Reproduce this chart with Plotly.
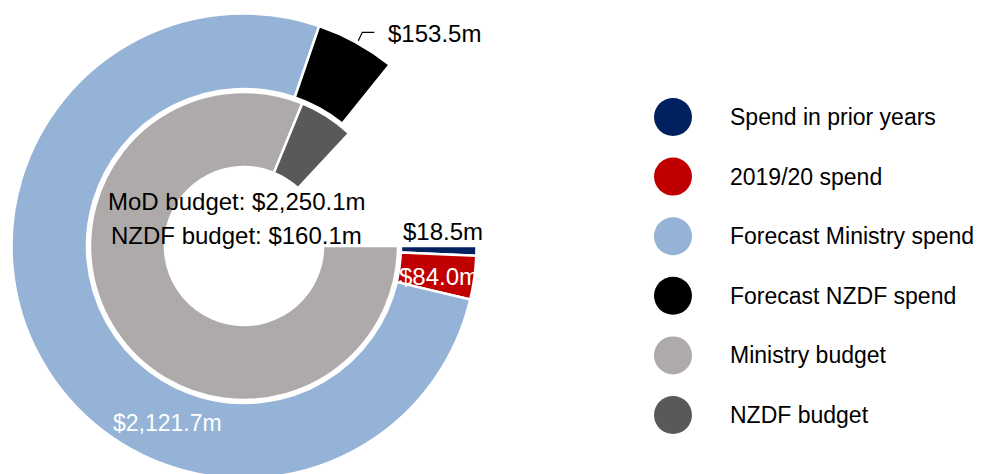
import plotly.graph_objects as go

# outer ring: where the money has gone / is forecast to go
outer_labels = ["Spend in prior years", "2019/20 spend", "Forecast Ministry spend", "Forecast NZDF spend"]
outer_values = [18.5, 84.0, 2121.7, 153.5]
outer_colors = ["#002060", "#c00000", "#95b3d7", "#000000"]

# inner ring: the budgets
inner_labels = ["Ministry budget", "NZDF budget"]
inner_values = [2250.1, 160.1]
inner_colors = ["#aeaaaa", "#595959"]

# blank part of each ring (the rings are not closed circles)
outer_blank = 394.3
inner_blank = 361.8

# page size; the figure is a bit taller than the window so the ring runs off the bottom
W, H = 985, 500
cx, cy = 244, 246          # ring centre in px
r_out, r_out_hole = 232.5, 157
r_in, r_in_hole = 154, 79


def px(x):
    return x / W


def py(y):
    return 1 - y / H


def money(v):
    return f"${v:,.1f}m"


fig = go.Figure()

fig.add_trace(go.Pie(
    values=outer_values + [outer_blank],
    labels=outer_labels + ["blank"],
    marker=dict(colors=outer_colors + ["rgba(0,0,0,0)"],
                line=dict(color="white", width=[2.5] * len(outer_values) + [0])),
    hole=r_out_hole / r_out,
    domain=dict(x=[px(cx - r_out), px(cx + r_out)], y=[py(cy + r_out), py(cy - r_out)]),
    sort=False, direction="clockwise", rotation=90,
    textinfo="none", hoverinfo="skip", showlegend=False,
))

fig.add_trace(go.Pie(
    values=inner_values + [inner_blank],
    labels=inner_labels + ["blank "],
    marker=dict(colors=inner_colors + ["rgba(0,0,0,0)"],
                line=dict(color="white", width=[2.5] * len(inner_values) + [0])),
    hole=r_in_hole / r_in,
    domain=dict(x=[px(cx - r_in), px(cx + r_in)], y=[py(cy + r_in), py(cy - r_in)]),
    sort=False, direction="clockwise", rotation=90,
    textinfo="none", hoverinfo="skip", showlegend=False,
))

# legend drawn as big circles + text on a hidden axis
legend_labels = outer_labels + inner_labels
legend_colors = outer_colors + inner_colors
rows = list(range(len(legend_labels)))

fig.add_trace(go.Scatter(
    x=[0] * len(rows), y=rows, mode="markers",
    marker=dict(size=38, color=legend_colors, line=dict(width=0)),
    hoverinfo="skip", showlegend=False,
))

# map legend units to pixels: marker col at 673px, text at 728px; rows from 117px every 59.6px
x_scale = 728 - 673
y_scale = 59.6
y_first = 117
fig.update_xaxes(visible=False, range=[-673 / x_scale, (W - 673) / x_scale], domain=[0, 1])
fig.update_yaxes(visible=False, range=[(H - y_first) / y_scale, -y_first / y_scale], domain=[0, 1])

annotations = []
for i, lab in zip(rows, legend_labels):
    annotations.append(dict(x=1, y=i, xref="x", yref="y", text=lab, showarrow=False,
                            xanchor="left", yanchor="middle", font=dict(size=23, color="black")))

# slice value labels
annotations += [
    dict(x=px(434.5), y=py(33), text=money(outer_values[3]), font=dict(size=24, color="black")),
    dict(x=px(442.5), y=py(232), text=money(outer_values[0]), font=dict(size=24, color="black")),
    dict(x=px(438.5), y=py(276), text=money(outer_values[1]), font=dict(size=24, color="white")),
    dict(x=px(167.5), y=py(423), text=money(outer_values[2]), font=dict(size=23, color="white")),
    dict(x=px(236.5), y=py(201), text="MoD budget: " + money(inner_values[0]), font=dict(size=24, color="black")),
    dict(x=px(236), y=py(235), text="NZDF budget: " + money(inner_values[1]), font=dict(size=24, color="black")),
]
for a in annotations[len(rows):]:
    a.update(xref="paper", yref="paper", showarrow=False, xanchor="center", yanchor="middle")

# elbow leader line for the NZDF forecast label
fig.add_shape(type="path", xref="paper", yref="paper",
              path=f"M {px(358.3)},{py(40.7)} L {px(362.3)},{py(32.3)} L {px(374.3)},{py(32.3)}",
              line=dict(color="black", width=1.2))

fig.update_layout(
    width=W, height=H,
    margin=dict(l=0, r=0, t=0, b=0),
    paper_bgcolor="white", plot_bgcolor="white",
    font=dict(family="Liberation Sans, Arial, sans-serif", size=24, color="black"),
    annotations=annotations,
)

fig.write_html("out.html", config={"displayModeBar": False},
               post_script="document.body.style.margin='0';document.body.style.overflow='hidden';")
